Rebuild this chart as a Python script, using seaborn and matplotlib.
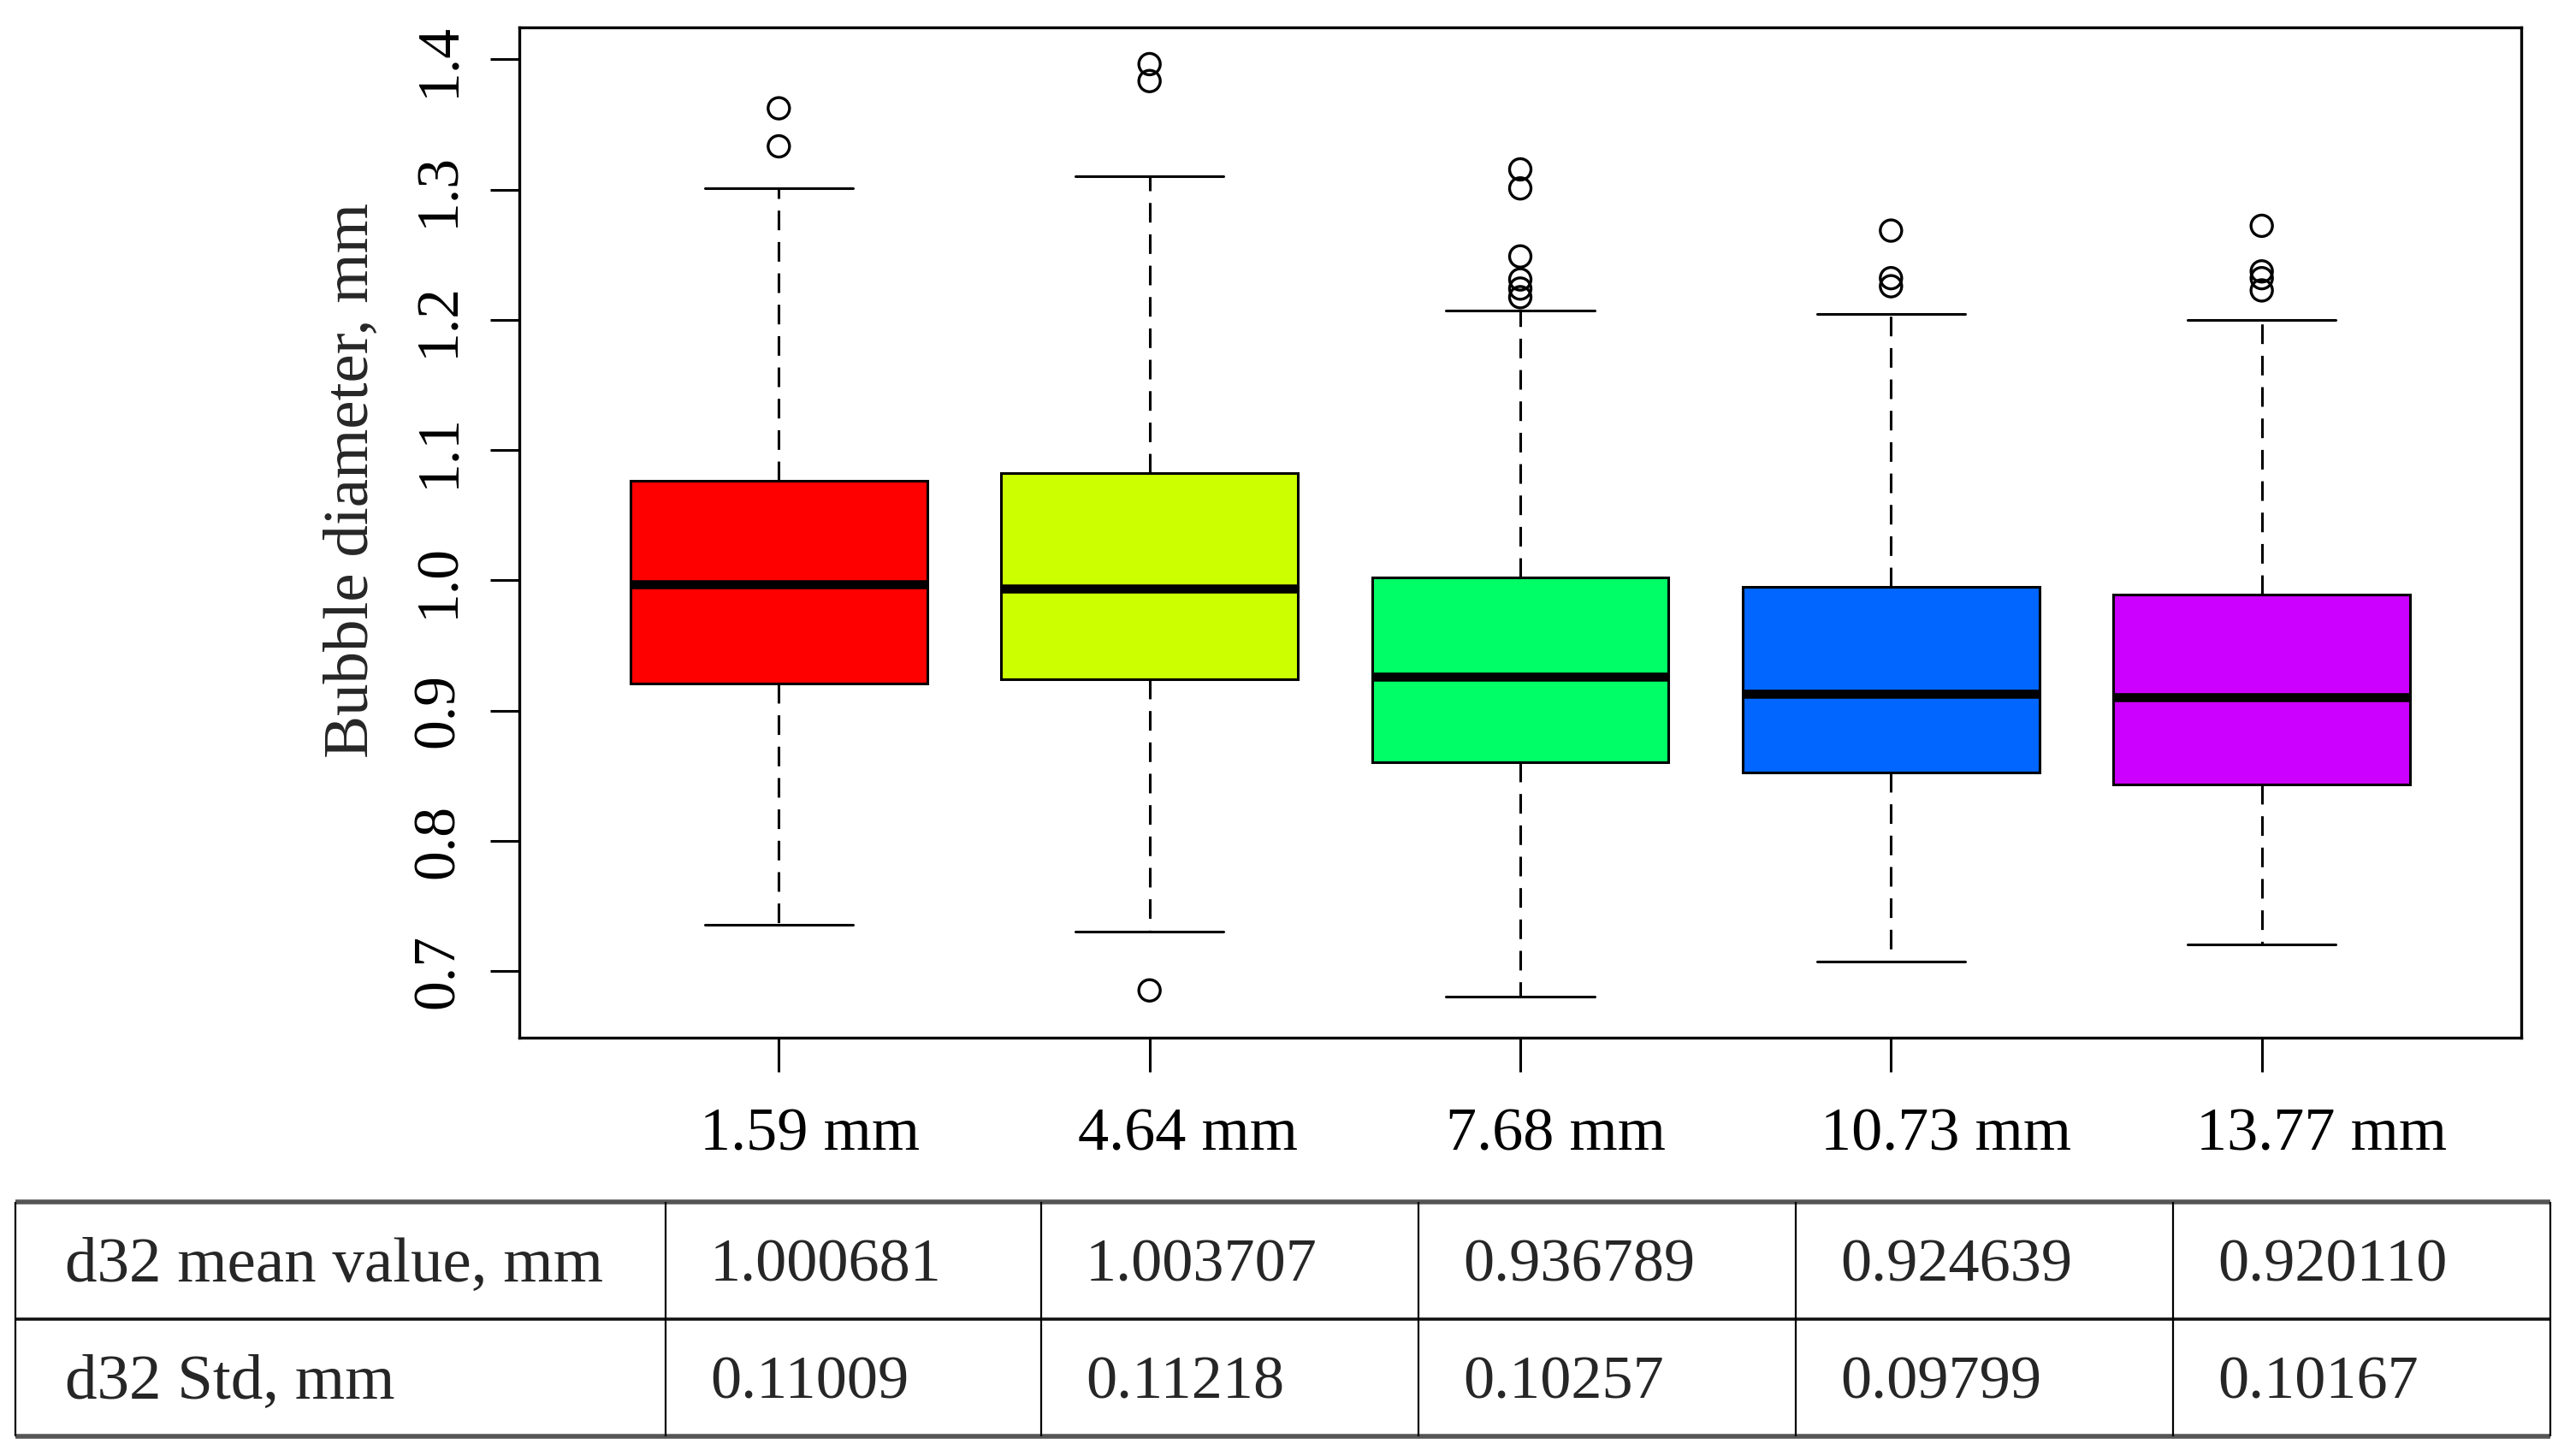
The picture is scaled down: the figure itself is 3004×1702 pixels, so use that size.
import numpy as np
import pandas as pd
import seaborn as sns
import matplotlib.pyplot as plt
from matplotlib import transforms

# nozzle distance groups
groups = ["1.59 mm", "4.64 mm", "7.68 mm", "10.73 mm", "13.77 mm"]
box_colors = ["#FF0000", "#CCFF00", "#00FF66", "#0066FF", "#CC00FF"]

# box statistics (bubble diameter, mm)
whisk_lo = [0.7354, 0.7307, 0.6807, 0.7073, 0.7208]
q1 = [0.9206, 0.9243, 0.8606, 0.8523, 0.8434]
median = [0.9973, 0.9936, 0.9258, 0.9133, 0.9102]
q3 = [1.0766, 1.0823, 1.0025, 0.9952, 0.9889]
whisk_hi = [1.3009, 1.3103, 1.2070, 1.2044, 1.1997]
outliers = [
    [1.3624, 1.3332],
    [1.3963, 1.3833, 0.6853],
    [1.3155, 1.3009, 1.2487, 1.2310, 1.2240, 1.2174],
    [1.2685, 1.2320, 1.2258],
    [1.2722, 1.2372, 1.2320, 1.2226],
]

yticks = [0.7, 0.8, 0.9, 1.0, 1.1, 1.2, 1.3, 1.4]

row_labels = ["d32 mean value, mm", "d32 Std, mm"]
mean_d32 = ["1.000681", "1.003707", "0.936789", "0.924639", "0.920110"]
std_d32 = ["0.11009", "0.11218", "0.10257", "0.09799", "0.10167"]

sns.set_theme(style="white")
plt.rcParams['font.family'] = ['Liberation Serif', 'DejaVu Serif']

# five numbers per group: with whis=(0,100) quartiles/whiskers land on them exactly
stats = pd.DataFrame({
    "group": np.repeat(groups, 5),
    "d": np.column_stack([whisk_lo, q1, median, q3, whisk_hi]).ravel(),
})
fl = pd.DataFrame({
    "group": [g for g, o in zip(groups, outliers) for _ in o],
    "d": [v for o in outliers for v in o],
})

W, H = 3004, 1702
fig = plt.figure(figsize=(W / 200, H / 200), dpi=200)
ax = fig.add_axes([607 / W, 1 - 1213 / H, 2340 / W, 1181 / H])

sns.boxplot(data=stats, x="group", y="d", hue="group", order=groups, hue_order=groups,
            palette=box_colors, saturation=1, whis=(0, 100), width=0.8,
            showfliers=False, linecolor="black", linewidth=1.1, legend=False, ax=ax,
            medianprops=dict(linewidth=3.8, color="black", solid_capstyle="butt"),
            whiskerprops=dict(linestyle=(0, (7.5, 4.5))),
            capprops=dict(linestyle="-"))

n_before = len(ax.collections)
sns.stripplot(data=fl, x="group", y="d", order=groups, jitter=False, color="black",
              marker="o", size=9, linewidth=1.2, edgecolor="black", ax=ax)
for c in ax.collections[n_before:]:
    c.set_facecolor("none")
    c.set_edgecolor("black")

ax.set_xlim(-0.7, 4.7)
ax.set_ylim(0.649, 1.4245)
ax.set_xlabel("")
ax.set_ylabel("")

ax.set_yticks(yticks)
ax.set_yticklabels([f"{t:.1f}" for t in yticks])
ax.tick_params(axis="y", left=True, length=12.2, width=1.1, pad=10, labelsize=25,
               labelrotation=90, colors="black")
for lab in ax.get_yticklabels():
    lab.set_va("center")

ax.set_xticks(range(len(groups)))
ax.set_xticklabels(groups)
ax.tick_params(axis="x", bottom=True, length=14.4, width=1.1, pad=15, labelsize=26,
               colors="black")
# labels sit a little right of their ticks in the original
label_shift_px = [36, 45, 41, 64, 70]
for lab, dx in zip(ax.get_xticklabels(), label_shift_px):
    lab.set_transform(lab.get_transform()
                      + transforms.ScaledTranslation(dx / 200, 0, fig.dpi_scale_trans))

for s in ax.spines.values():
    s.set_visible(True)
    s.set_color("black")
    s.set_linewidth(1.2)

fig.text(412 / W, 1 - 562 / H, "Bubble diameter, mm", rotation=90, ha="center",
         va="center", fontsize=27)

# summary table under the plot
tax = fig.add_axes([0, 0, 1, 1], zorder=-1)
tax.set_xlim(0, W)
tax.set_ylim(H, 0)
tax.axis("off")
col_x = [18, 778, 1217, 1658, 2099, 2540, 2981]
row_y = [1405, 1542, 1679]
tax.hlines([row_y[0], row_y[2]], col_x[0], col_x[-1], color="#555555", lw=2.0)
tax.hlines(row_y[1], col_x[0], col_x[-1], color="#111111", lw=1.3)
tax.vlines(col_x, row_y[0], row_y[2], color="black", lw=0.8)
for r, (lab, vals) in enumerate(zip(row_labels, [mean_d32, std_d32])):
    yc = (row_y[r] + row_y[r + 1]) / 2 + 24
    cells = [lab] + vals
    for c, txt in enumerate(cells):
        tax.text(col_x[c] + (58 if c == 0 else 52), yc, txt, ha="left",
                 va="baseline", fontsize=27 if c == 0 else 26)

fig.savefig("out.png", dpi=200)
